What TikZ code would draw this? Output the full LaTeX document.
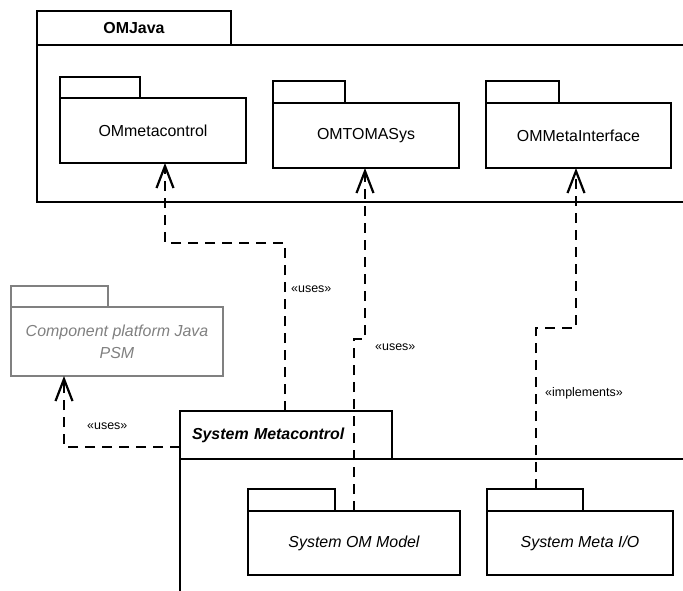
\documentclass[tikz,border=0pt]{standalone}
\usepackage{fontspec}
\setmainfont{Liberation Sans}
\usetikzlibrary{arrows.meta}

\tikzset{
  pkgline/.style={draw=black, line width=2.2bp},
  pkgtab/.style={pkgline, anchor=north west, inner sep=0pt, outer sep=0pt},
  pkgbody/.style={pkgline, anchor=north west, inner sep=0pt, outer sep=0pt,
    align=center, font=\fontsize{16}{19}\selectfont},
  greypkg/.style={draw=black!50, text=black!50},
  dep/.style={line width=2.2bp, dash pattern=on 10bp off 7bp,
    -{Straight Barb[length=22bp, width=17bp, line width=2.2bp]}},
  stereo/.style={anchor=west, inner sep=0pt, font=\fontsize{12.5}{14}\selectfont},
}

\begin{document}
\begin{tikzpicture}[x=1bp, y=-1bp]
\clip (0,0) rectangle (683,591);

% OMJava container package
\node[pkgtab, minimum width=194bp, minimum height=34bp,
  font=\bfseries\fontsize{16}{19}\selectfont] (omjtab) at (37,11) {OMJava};
\node[pkgbody, minimum width=680bp, minimum height=157bp] (omj) at (37,45) {};

% packages inside OMJava
\node[pkgtab, minimum width=80bp, minimum height=21bp] (omctab) at (60,77) {};
\node[pkgbody, minimum width=186bp, minimum height=65bp] (omc) at (60,98) {OMmetacontrol};

\node[pkgtab, minimum width=72bp, minimum height=22bp] (omttab) at (273,81) {};
\node[pkgbody, minimum width=186bp, minimum height=65bp] (omt) at (273,103) {OMTOMASys};

\node[pkgtab, minimum width=73bp, minimum height=22bp] (omitab) at (486,81) {};
\node[pkgbody, minimum width=185bp, minimum height=65bp] (omi) at (486,103) {OMMetaInterface};

% grey platform package
\node[pkgtab, greypkg, minimum width=97bp, minimum height=21bp] (cptab) at (11,286) {};
\node[pkgbody, greypkg, minimum width=212bp, minimum height=69bp,
  font=\itshape\fontsize{16}{22}\selectfont] (cp) at (11,307) {Component platform Java\\PSM};

% System Metacontrol container package
\node[pkgtab, minimum height=48bp, text width=188bp, inner xsep=12bp, align=left,
  font=\bfseries\itshape\fontsize{16}{19}\selectfont] (smtab) at (180,411) {System Metacontrol};
\node[pkgbody, minimum width=540bp, minimum height=170bp] (sm) at (180,459) {};

% packages inside System Metacontrol
\node[pkgtab, minimum width=87bp, minimum height=22bp] (somtab) at (248,489) {};
\node[pkgbody, minimum width=212bp, minimum height=64bp,
  font=\itshape\fontsize{16}{19}\selectfont] (som) at (248,511) {System OM Model};

\node[pkgtab, minimum width=96bp, minimum height=22bp] (siotab) at (487,489) {};
\node[pkgbody, minimum width=186bp, minimum height=64bp,
  font=\itshape\fontsize{16}{19}\selectfont] (sio) at (487,511) {System Meta I/O};

% bend points of the dependencies
\coordinate (b1) at (285,243);
\coordinate (b1a) at (165,243);
\coordinate (b2) at (354,339);
\coordinate (b2a) at (365,339);
\coordinate (b3) at (536,328);
\coordinate (b3a) at (576,328);
\coordinate (b4) at (64,447);

% dependencies
\draw[dep] (smtab.north -| b1) -- (b1) -- (b1a) -- (omc.south -| b1a);
\draw[dep] (som.north -| b2) -- (b2) -- (b2a) -- (omt.south -| b2a);
\draw[dep] (siotab.north -| b3) -- (b3) -- (b3a) -- (omi.south -| b3a);
\draw[dep] (smtab.west |- b4) -- (b4) -- (cp.south -| b4);

% stereotypes
\node[stereo] (l1) at (291,289) {«uses»};
\node[stereo] (l2) at (375,347) {«uses»};
\node[stereo] (l3) at (545,393) {«implements»};
\node[stereo] (l4) at (87,426) {«uses»};
\end{tikzpicture}
\end{document}
